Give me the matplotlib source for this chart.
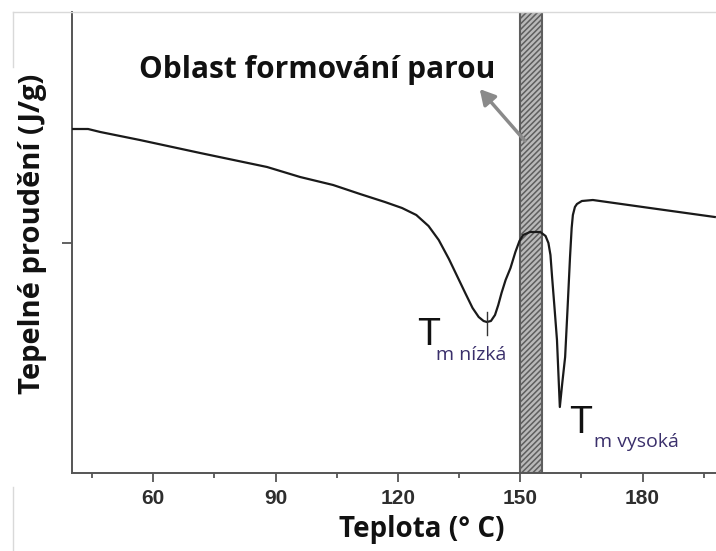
import matplotlib.pyplot as plt
from matplotlib.lines import Line2D
import numpy as np

# DSC curve (temperature in deg C, heat flow in arbitrary units)
temp = [40.1, 44.0, 47.0, 56.7, 71.5, 87.9, 96.0, 104.1, 110.7, 116.8, 121.0,
        124.5, 127.5, 130.0, 132.5, 134.5, 136.5, 138.3, 139.8, 141.0, 141.8,
        142.8, 143.8, 144.6, 145.4, 146.4, 147.6, 148.8, 149.8, 150.7, 152.4,
        154.9, 156.2, 156.9, 157.4, 157.8, 158.4, 159.0, 159.7, 160.3, 161.0,
        161.6, 162.2, 162.6, 162.9, 163.4, 163.9, 165.1, 167.8, 181.8, 197.7]
heat = [344, 344, 341, 333, 320, 306, 296, 288, 279, 271, 265,
        258, 247, 233, 214, 197, 180, 165, 156, 152, 151,
        152, 158, 168, 180, 193, 205, 221, 232, 238, 241,
        241, 237, 230, 218, 196, 165, 133, 66, 90, 116,
        165, 216, 245, 258, 266, 269, 272, 273, 265, 256]

xticks = [60, 90, 120, 150, 180]
minor_ticks = [45, 75, 105, 135, 165, 195]
band = (150.0, 155.4)      # steam forming region
tm_low = 141.8

plt.rcParams['hatch.linewidth'] = 1.1

fig = plt.figure(figsize=(7.16, 5.51), dpi=100)
ax = fig.add_axes([72/716, 78/551, 644/716, 461/551])

ax.axvspan(band[0], band[1], facecolor='#b9b9b9', edgecolor='#5e5e5e',
           hatch='//////', linewidth=1.5, zorder=1)
ax.plot(temp, heat, color='#1a1a1a', linewidth=1.6, zorder=3)

# small marker on the low melting peak
ax.plot([tm_low, tm_low], [138, 161], color='#333333', linewidth=1.0, zorder=3)

ax.set_xlim(40.06, 198.0)
ax.set_ylim(0, 461)

for s in ['top', 'right']:
    ax.spines[s].set_visible(False)
for s in ['left', 'bottom']:
    ax.spines[s].set_color('#555555')
    ax.spines[s].set_linewidth(1.4)

ax.set_xticks(xticks)
ax.set_xticks(minor_ticks, minor=True)
ax.set_yticks([230])
ax.set_yticklabels([])
ax.tick_params(axis='x', which='major', direction='out', length=6.5, width=1.3,
               color='#555555', labelsize=15, labelcolor='#2e2e2e', pad=5)
ax.tick_params(axis='x', which='minor', direction='out', length=3.5, width=1.3,
               color='#555555')
ax.tick_params(axis='y', direction='out', length=7, width=1.3, color='#555555')
for lab in ax.get_xticklabels():
    lab.set_fontfamily('Liberation Sans')
    lab.set_fontweight('bold')

# arrow and annotation text
ax.annotate('', xy=(139.6, 386), xytext=(151.6, 330),
            arrowprops=dict(arrowstyle='-|>,head_width=0.5,head_length=0.9',
                            color='#8a8a8a', lw=2.5))
ax.text(56.6, 395, 'Oblast formování parou', fontsize=21.5, fontweight='bold',
        family='Open Sans', color='#111111', ha='left', va='baseline')

ax.text(124.6, 128, 'T', fontsize=27, family='Liberation Sans', color='#111111',
        ha='left', va='baseline')
ax.text(129.4, 113, 'm nízká', fontsize=14, family='Open Sans', color='#3a2f6b',
        ha='left', va='baseline')
ax.text(162.0, 40, 'T', fontsize=27, family='Liberation Sans', color='#111111',
        ha='left', va='baseline')
ax.text(168.2, 26, 'm vysoká', fontsize=14, family='Open Sans', color='#3a2f6b',
        ha='left', va='baseline')

fig.text(422/716, 1 - 530/551, 'Teplota (° C)', fontsize=20, fontweight='bold',
         family='Open Sans', color='#111111', ha='center', va='center')
fig.text(33/716, 1 - 234/551, 'Tepelné proudění (J/g)', fontsize=21,
         fontweight='bold', family='Open Sans', color='#111111', rotation=90,
         ha='center', va='center')

# faint screenshot frame
fig.add_artist(Line2D([13/716, 1], [1 - 12/551, 1 - 12/551], color='#d9d9d9', lw=1))
fig.add_artist(Line2D([13/716, 13/716], [1 - 12/551, 1 - 67/551], color='#d9d9d9', lw=1))
fig.add_artist(Line2D([13/716, 13/716], [1 - 487/551, 0], color='#d9d9d9', lw=1))

fig.savefig('out.png', dpi=100)
